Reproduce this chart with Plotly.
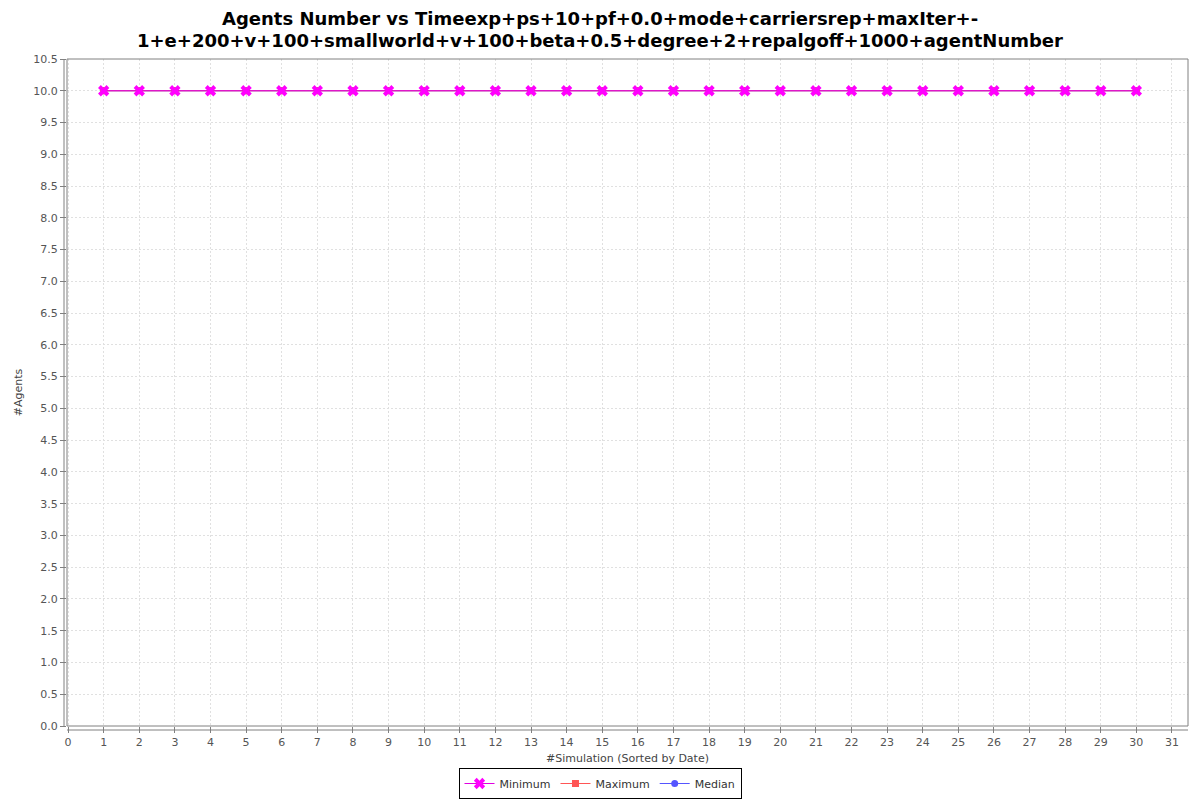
import plotly.graph_objects as go

title_lines = [
    "Agents Number vs Timeexp+ps+10+pf+0.0+mode+carriersrep+maxIter+-",
    "1+e+200+v+100+smallworld+v+100+beta+0.5+degree+2+repalgoff+1000+agentNumber",
]
simulations = list(range(1, 31))
minimum = [10.0] * 30
maximum = [10.0] * 30
median = [10.0] * 30
x_ticks = list(range(0, 32))
y_ticks = [i * 0.5 for i in range(0, 22)]

W, H = 1192, 792          # page body adds an 8px margin
ML, MR, MT, MB = 59, 12, 51, 74
PW = W - ML - MR
PH = H - MT - MB
PAGE_CENTER_X = (600 - 8 - ML) / PW

fig = go.Figure()
fig.add_trace(go.Scatter(x=simulations, y=median, name="Median", mode="lines+markers",
                         line=dict(color="#5555ff", width=1),
                         marker=dict(symbol="circle", size=7, color="#5555ff")))
fig.add_trace(go.Scatter(x=simulations, y=maximum, name="Maximum", mode="lines+markers",
                         line=dict(color="#ff5555", width=1),
                         marker=dict(symbol="square", size=7, color="#ff5555")))
fig.add_trace(go.Scatter(x=simulations, y=minimum, name="Minimum", mode="lines+markers",
                         line=dict(color="#e000e0", width=1),
                         marker=dict(symbol="x", size=10, color="#ff00ff",
                                     line=dict(width=0))))

grid = dict(showgrid=True, gridcolor="#e0e0e0", griddash="2px,2px", gridwidth=1, zeroline=False)
fig.update_layout(
    width=W, height=H,
    paper_bgcolor="white", plot_bgcolor="white",
    margin=dict(l=ML, r=MR, t=MT, b=MB, autoexpand=False),
    font=dict(family="DejaVu Sans", size=11, color="#555555"),
    xaxis=dict(range=[-0.03, 31.45], tickvals=x_ticks, ticks="outside", ticklen=6,
               tickcolor="#808080", tickfont=dict(size=11, color="#555555"),
               title=dict(text="#Simulation (Sorted by Date)", font=dict(size=11, color="#444444"), standoff=6),
               showline=False, **grid),
    yaxis=dict(range=[0, 10.5], tickvals=y_ticks, tickformat=".1f", ticks="outside", ticklen=6,
               tickcolor="#808080", tickfont=dict(size=11, color="#555555"),
               title=dict(text="#Agents", font=dict(size=11, color="#444444"), standoff=8),
               showline=False, **grid),
    legend=dict(orientation="h", x=PAGE_CENTER_X, xanchor="center", y=-42 / PH, yanchor="top",
                bordercolor="black", borderwidth=1, font=dict(size=11, color="#333333"),
                traceorder="reversed", itemwidth=30, tracegroupgap=0),
    showlegend=True,
)
# title lines
for line, ypx in zip(title_lines, [18, 40]):
    fig.add_annotation(text="<b>%s</b>" % line, xref="paper", yref="paper",
                       x=PAGE_CENTER_X, xanchor="center",
                       y=1 + (MT - (ypx - 8)) / PH, yanchor="middle", showarrow=False,
                       font=dict(family="DejaVu Sans", size=18, color="black"))
# plot frame
fig.add_shape(type="rect", xref="paper", yref="paper", x0=0, x1=1, y0=0, y1=1,
              line=dict(color="#808080", width=1))
# offset axis lines
fig.add_shape(type="line", xref="paper", yref="paper", x0=-3 / PW, x1=-3 / PW,
              y0=0, y1=1, line=dict(color="#808080", width=1))
fig.add_shape(type="line", xref="paper", yref="paper", x0=0, x1=1, y0=-4 / PH, y1=-4 / PH,
              line=dict(color="#808080", width=1))

fig.write_html("out.html")
